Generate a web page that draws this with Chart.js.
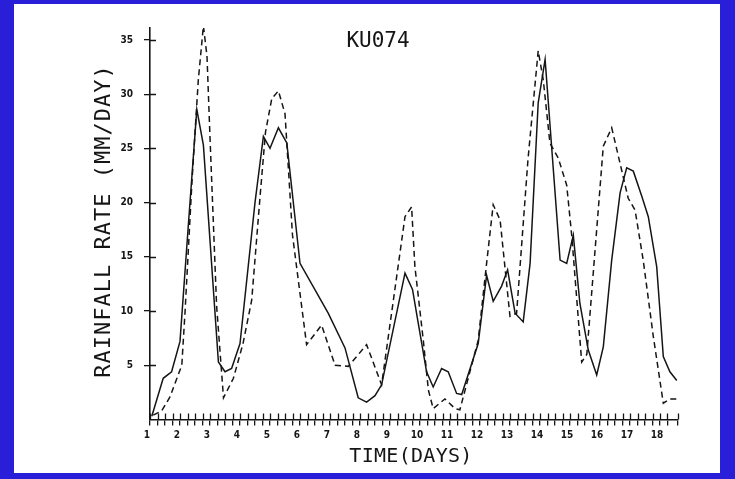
<!DOCTYPE html>
<html>
<head>
<meta charset="utf-8">
<script src="https://cdn.jsdelivr.net/npm/chart.js@4"></script>
<style>
  html, body { margin: 0; padding: 0; width: 735px; height: 479px; overflow: hidden; background: #2a1fd9; }
  #paper { position: absolute; left: 14px; top: 4px; width: 706px; height: 469px; background: #fff; }
  #wrap { position: absolute; left: 0; top: 0; width: 735px; height: 479px; }
</style>
</head>
<body>
<div id="paper"></div>
<div id="wrap"><canvas id="rainChart" width="735" height="479"></canvas></div>
<script>
// solid curve (time in days, rainfall in mm/day)
const solidDays = [1.06, 1.44, 1.72, 2.0, 2.28, 2.56, 2.78, 3.28, 3.5, 3.72, 4.0, 4.5, 4.78, 5.0, 5.28, 5.56,
  6.0, 6.94, 7.5, 7.94, 8.22, 8.5, 8.72, 9.5, 9.75, 9.94, 10.22, 10.44, 10.72, 10.94, 11.22, 11.39,
  11.94, 12.22, 12.44, 12.72, 12.92, 13.17, 13.44, 13.67, 13.94, 14.17, 14.67, 14.89, 15.11, 15.33,
  15.61, 15.89, 16.11, 16.39, 16.67, 16.89, 17.11, 17.39, 17.61, 17.89, 18.11, 18.33, 18.56];
const solidRain = [0.3, 3.8, 4.4, 7.2, 18, 28.6, 25.3, 5.3, 4.4, 4.7, 7.0, 20, 26.1, 25.0, 26.9, 25.5,
  14.4, 9.8, 6.6, 2.0, 1.6, 2.2, 3.2, 13.5, 12.0, 8.9, 4.4, 3.0, 4.7, 4.4, 2.4, 2.3,
  7.0, 13.3, 10.9, 12.3, 13.8, 9.8, 9.0, 14.4, 29.2, 33.2, 14.7, 14.4, 17.0, 10.7,
  6.4, 4.1, 6.7, 14.7, 20.9, 23.2, 22.9, 20.6, 18.7, 14.1, 5.8, 4.4, 3.6];

// dashed curve
const dashedDays = [1.11, 1.39, 1.67, 1.83, 2.06, 2.17, 2.4, 2.61, 2.78, 2.9, 3.0, 3.22, 3.45, 3.78, 4.1,
  4.39, 4.67, 4.85, 5.06, 5.28, 5.5, 5.75, 6.22, 6.72, 7.17, 7.61, 8.22, 8.72, 9.5, 9.72, 9.83,
  10.11, 10.28, 10.44, 10.83, 11.17, 11.33, 11.94, 12.22, 12.44, 12.67, 13.0, 13.22, 13.6, 13.94,
  14.11, 14.33, 14.61, 14.89, 15.06, 15.39, 15.56, 16.11, 16.39, 16.67, 16.94, 17.17, 17.44,
  17.78, 18.11, 18.33, 18.61];
const dashedRain = [0.4, 0.8, 2.1, 3.3, 5.0, 10.0, 22, 31.3, 36.3, 33.5, 26, 10.5, 2.0, 3.8, 7.0,
  11.0, 20.6, 26.5, 29.6, 30.3, 28.2, 17, 6.9, 8.7, 5.0, 4.9, 6.9, 3.2, 18.7, 19.6, 14.1,
  7.3, 2.7, 1.0, 1.9, 1.0, 0.9, 7.3, 14.4, 19.8, 18.4, 9.5, 9.8, 24, 34.0,
  31.3, 25.5, 24.1, 21.6, 16.9, 5.3, 6.0, 25.2, 26.9, 23.6, 20.4, 19.3, 14.7,
  7.6, 1.5, 1.9, 1.9];

const yTickValues = [5, 10, 15, 20, 25, 30, 35];
const dayLabels = ['1', '2', '3', '4', '5', '6', '7', '8', '9', '10', '11', '12', '13', '14', '15', '16', '17', '18'];
const chartTitle = 'KU074';
const xTitle = 'TIME(DAYS)';
const yTitle = 'RAINFALL RATE (MM/DAY)';

const ink = '#151515';
const toPoints = (xs, ys) => xs.map((x, i) => ({ x: x, y: ys[i] }));

// ticks crossing the axes + plotter style texts
const plotterText = {
  id: 'plotterText',
  afterDraw(chart) {
    const ctx = chart.ctx;
    const xs = chart.scales.x, ys = chart.scales.y;
    ctx.save();
    ctx.strokeStyle = ink;
    ctx.lineWidth = 1.3;
    ctx.beginPath();
    xs.ticks.forEach(t => {
      const px = Math.round(xs.getPixelForValue(t.value)) + 0.5;
      ctx.moveTo(px, ys.bottom);
      ctx.lineTo(px, ys.bottom - 6);
    });
    ys.ticks.forEach(t => {
      const py = Math.round(ys.getPixelForValue(t.value)) + 0.5;
      ctx.moveTo(xs.left, py);
      ctx.lineTo(xs.left + 6, py);
    });
    ctx.stroke();

    ctx.fillStyle = ink;
    ctx.textAlign = 'center';
    ctx.textBaseline = 'middle';
    ctx.font = '21px "DejaVu Sans Mono"';
    ctx.fillText(chartTitle, 378, 42);

    ctx.font = '20px "DejaVu Sans Mono"';
    ctx.letterSpacing = '0.3px';
    ctx.fillText(xTitle, 411, 457);

    ctx.translate(104, 221);
    ctx.rotate(-Math.PI / 2);
    ctx.font = '22px "DejaVu Sans Mono"';
    ctx.letterSpacing = '1px';
    ctx.fillText(yTitle, 0, 0);
    ctx.restore();
  }
};

const ctx = document.getElementById('rainChart').getContext('2d');
new Chart(ctx, {
  type: 'line',
  data: {
    datasets: [{
      data: toPoints(solidDays, solidRain),
      borderColor: ink,
      borderWidth: 1.5,
      pointRadius: 0,
      tension: 0
    }, {
      data: toPoints(dashedDays, dashedRain),
      borderColor: ink,
      borderWidth: 1.5,
      borderDash: [6, 4],
      pointRadius: 0,
      tension: 0
    }]
  },
  options: {
    responsive: false,
    animation: false,
    layout: { padding: { top: 28, right: 57, left: 0, bottom: 0 } },
    plugins: {
      legend: { display: false },
      tooltip: { enabled: false }
    },
    scales: {
      x: {
        type: 'linear',
        min: 1,
        max: 18.6,
        afterFit: s => { s.height = 59.5; },
        border: { color: ink, width: 1.6 },
        grid: { drawOnChartArea: false, drawTicks: true, tickLength: 6, color: ink, lineWidth: 1.3 },
        ticks: {
          stepSize: 0.25,
          autoSkip: false,
          maxRotation: 0,
          padding: 4,
          labelOffset: -3,
          color: ink,
          font: { family: '"Liberation Sans Narrow", "DejaVu Sans Condensed", "Liberation Sans"', size: 10, weight: 'bold' },
          callback: v => Number.isInteger(v) ? (dayLabels[v - 1] || '') : ''
        }
      },
      y: {
        type: 'linear',
        min: 0,
        max: 36.1,
        afterFit: s => { s.width = 150; },
        afterBuildTicks: s => { s.ticks = yTickValues.map(v => ({ value: v })); },
        border: { color: ink, width: 1.6 },
        grid: { drawOnChartArea: false, drawTicks: true, tickLength: 6, color: ink, lineWidth: 1.3 },
        ticks: {
          padding: 11,
          color: ink,
          font: { family: '"Liberation Sans Narrow", "DejaVu Sans Condensed", "Liberation Sans"', size: 10, weight: 'bold' }
        }
      }
    }
  },
  plugins: [plotterText]
});
</script>
</body>
</html>
